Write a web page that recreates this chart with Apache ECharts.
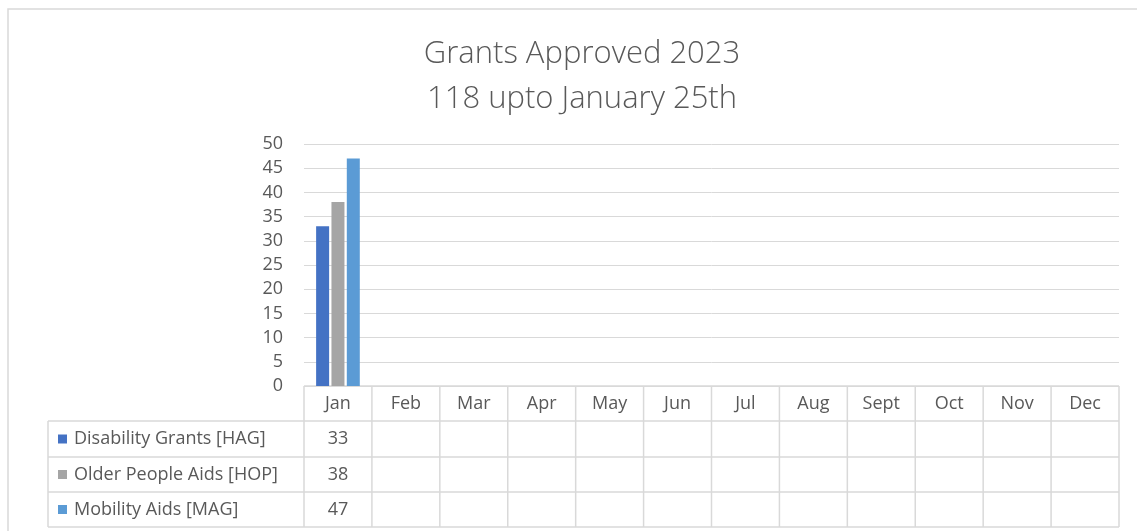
<!DOCTYPE html>
<html>
<head>
<meta charset="utf-8">
<script src="https://cdn.jsdelivr.net/npm/echarts@6/dist/echarts.min.js"></script>
<style>
  html, body { margin: 0; padding: 0; background: #fff; }
  #main { width: 1137px; height: 531px; }
</style>
</head>
<body>
<div id="main"></div>
<script>
const months = ['Jan', 'Feb', 'Mar', 'Apr', 'May', 'Jun', 'Jul', 'Aug', 'Sept', 'Oct', 'Nov', 'Dec'];
const seriesNames = ['Disability Grants [HAG]', 'Older People Aids [HOP]', 'Mobility Aids [MAG]'];
const seriesColors = ['#4472C4', '#A5A5A5', '#5B9BD5'];
const hagValues = [33, null, null, null, null, null, null, null, null, null, null, null];
const hopValues = [38, null, null, null, null, null, null, null, null, null, null, null];
const magValues = [47, null, null, null, null, null, null, null, null, null, null, null];
const titleLines = ['Grants Approved 2023', '118 upto January 25th'];

const allValues = [hagValues, hopValues, magValues];
const FONT = '"Open Sans"';
const TEXT = '#595959';
const LINE = '#d9d9d9';
const SMALL = 18;

const chart = echarts.init(document.getElementById('main'));

const option = {
  animation: false,
  backgroundColor: '#fff',
  textStyle: { fontFamily: FONT },
  title: {
    text: titleLines.join('\n'),
    left: 577,
    top: 27,
    textAlign: 'center',
    textStyle: { fontFamily: FONT, fontSize: 31, fontWeight: 300, color: TEXT, lineHeight: 45 }
  },
  grid: { left: 304, right: 18, top: 144, bottom: 145 },
  xAxis: {
    type: 'category',
    data: months,
    axisLine: { show: false },
    axisTick: { show: false },
    axisLabel: { show: false }
  },
  yAxis: {
    type: 'value',
    min: 0,
    max: 50,
    interval: 5,
    axisLine: { show: false },
    axisTick: { show: false },
    axisLabel: { margin: 21, fontFamily: FONT, fontSize: SMALL, color: TEXT },
    splitLine: { lineStyle: { color: LINE, width: 1 } }
  },
  series: allValues.map((vals, i) => ({
    name: seriesNames[i],
    type: 'bar',
    data: vals,
    barWidth: 13,
    barGap: '18%',
    itemStyle: { color: seriesColors[i] }
  }))
};
chart.setOption(option);

// data table under the plot, built from the axis positions
function buildTable() {
  const c0 = chart.convertToPixel({ xAxisIndex: 0 }, 0);
  const c1 = chart.convertToPixel({ xAxisIndex: 0 }, 1);
  const colW = c1 - c0;
  const left = c0 - colW / 2;
  const right = left + colW * months.length;
  const top = chart.convertToPixel({ yAxisIndex: 0 }, 0);
  const rowH = [35, 36, 35, 35];
  const rowY = [top];
  rowH.forEach(h => rowY.push(rowY[rowY.length - 1] + h));
  const legLeft = 48;
  const els = [];
  const line = (x1, y1, x2, y2) => els.push({
    type: 'line', silent: true,
    shape: { x1, y1, x2, y2 },
    style: { stroke: LINE, lineWidth: 1.5 }
  });
  // outer chart border
  els.push({
    type: 'rect', silent: true,
    shape: { x: 8, y: 9, width: 1200, height: 600 },
    style: { fill: null, stroke: LINE, lineWidth: 1.5 }
  });
  // horizontal lines
  line(left, rowY[0], right, rowY[0]);
  for (let r = 1; r < rowY.length; r++) line(legLeft, rowY[r], right, rowY[r]);
  // vertical lines
  for (let k = 0; k <= months.length; k++) {
    const x = left + k * colW;
    line(x, rowY[0], x, rowY[rowY.length - 1]);
  }
  line(legLeft, rowY[1], legLeft, rowY[rowY.length - 1]);
  // header
  months.forEach((m, k) => els.push({
    type: 'text', silent: true,
    style: {
      text: m, x: left + (k + 0.5) * colW, y: (rowY[0] + rowY[1]) / 2,
      align: 'center', verticalAlign: 'middle',
      font: SMALL + 'px ' + FONT, fill: TEXT
    }
  }));
  // rows
  seriesNames.forEach((name, i) => {
    const cy = (rowY[i + 1] + rowY[i + 2]) / 2;
    els.push({
      type: 'rect', silent: true,
      shape: { x: 58, y: cy - 4.5, width: 9, height: 9 },
      style: { fill: seriesColors[i] }
    });
    els.push({
      type: 'text', silent: true,
      style: {
        text: name, x: 74, y: cy, align: 'left', verticalAlign: 'middle',
        font: SMALL + 'px ' + FONT, fill: TEXT
      }
    });
    allValues[i].forEach((v, k) => {
      if (v == null) return;
      els.push({
        type: 'text', silent: true,
        style: {
          text: String(v), x: left + (k + 0.5) * colW, y: cy,
          align: 'center', verticalAlign: 'middle',
          font: SMALL + 'px ' + FONT, fill: TEXT
        }
      });
    });
  });
  chart.setOption({ graphic: els });
}
buildTable();
</script>
</body>
</html>
